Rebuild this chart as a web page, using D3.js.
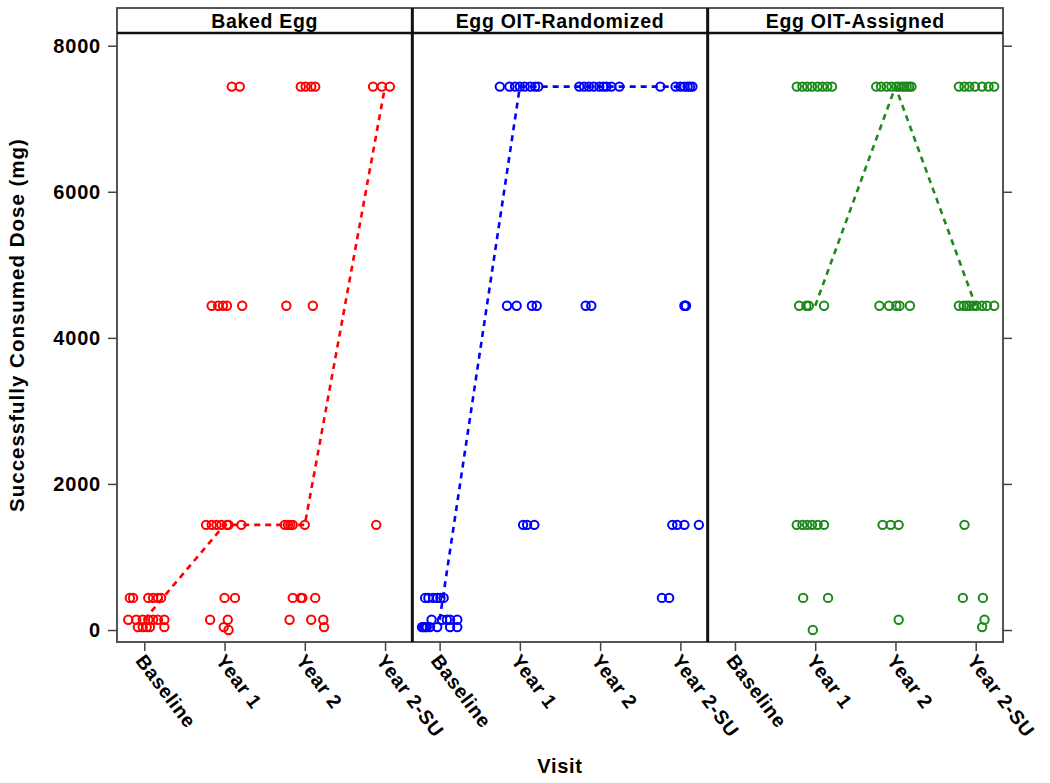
<!DOCTYPE html>
<html><head><meta charset="utf-8">
<script src="https://cdn.jsdelivr.net/npm/d3@7"></script>
<style>
html,body{margin:0;padding:0;background:#fff;}
text{font-family:"Liberation Sans",Arial,sans-serif;font-weight:bold;}
</style></head>
<body><svg id="chart" width="1050" height="783"></svg>
<script>
// ---------- data ----------
const visits = ["Baseline", "Year 1", "Year 2", "Year 2-SU"];
const groups = ["Baked Egg", "Egg OIT-Randomized", "Egg OIT-Assigned"];
const groupColors = ["#ff0000", "#0000ff", "#1b8a1b"];
const yTicks = [0, 2000, 4000, 6000, 8000];
const yLabel = "Successfully Consumed Dose (mg)";
const xLabel = "Visit";

// [visit, dose (mg), horizontal jitter of each subject (fraction of category step)]
const bakedEgg = [
  ["Baseline", 440, [-0.18, -0.14, 0.05, 0.11, 0.17, 0.21]],
  ["Baseline", 140, [-0.20, -0.10, -0.02, 0.05, 0.11, 0.17, 0.25]],
  ["Baseline", 40, [-0.08, -0.02, 0.03, 0.07, 0.25]],
  ["Year 1", 7440, [0.09, 0.19]],
  ["Year 1", 4440, [-0.16, -0.08, -0.02, 0.03, 0.22]],
  ["Year 1", 1440, [-0.23, -0.16, -0.10, -0.04, 0.03, 0.05, 0.21]],
  ["Year 1", 440, [0.0, 0.13]],
  ["Year 1", 140, [-0.18, 0.04]],
  ["Year 1", 40, [-0.01]],
  ["Year 1", 0, [0.05]],
  ["Year 2", 7440, [-0.05, 0.01, 0.08, 0.13]],
  ["Year 2", 4440, [-0.23, 0.10]],
  ["Year 2", 1440, [-0.25, -0.21, -0.18, -0.15, 0.0]],
  ["Year 2", 440, [-0.15, -0.05, -0.03, 0.13]],
  ["Year 2", 140, [-0.19, 0.08, 0.23]],
  ["Year 2", 40, [0.24]],
  ["Year 2-SU", 7440, [-0.15, -0.04, 0.06]],
  ["Year 2-SU", 1440, [-0.11]]
];
const oitRandomized = [
  ["Baseline", 440, [-0.18, -0.14, -0.08, -0.03, 0.01, 0.05]],
  ["Baseline", 140, [-0.10, 0.03, 0.09, 0.13, 0.22]],
  ["Baseline", 40, [-0.22, -0.20, -0.18, -0.16, -0.12, -0.03, 0.13, 0.22]],
  ["Year 1", 7440, [-0.25, -0.13, -0.06, 0.0, 0.06, 0.13, 0.19, 0.23]],
  ["Year 1", 4440, [-0.16, -0.04, 0.15, 0.21]],
  ["Year 1", 1440, [0.04, 0.09, 0.18]],
  ["Year 2", 7440, [-0.26, -0.20, -0.14, -0.08, -0.01, 0.04, 0.08, 0.14, 0.24]],
  ["Year 2", 4440, [-0.18, -0.11]],
  ["Year 2-SU", 7440, [-0.25, -0.06, 0.0, 0.05, 0.09, 0.12, 0.15]],
  ["Year 2-SU", 4440, [0.05, 0.06, 0.07]],
  ["Year 2-SU", 1440, [-0.10, -0.04, 0.05, 0.23]],
  ["Year 2-SU", 440, [-0.23, -0.14]]
];
const oitAssigned = [
  ["Year 1", 7440, [-0.23, -0.16, -0.10, -0.04, 0.03, 0.09, 0.15, 0.21]],
  ["Year 1", 4440, [-0.20, -0.11, -0.08, 0.11]],
  ["Year 1", 1440, [-0.23, -0.16, -0.10, -0.04, 0.03, 0.11]],
  ["Year 1", 440, [-0.15, 0.16]],
  ["Year 1", 0, [-0.03]],
  ["Year 2", 7440, [-0.24, -0.18, -0.11, -0.05, 0.01, 0.04, 0.08, 0.11, 0.14, 0.17, 0.20]],
  ["Year 2", 4440, [-0.20, -0.08, 0.01, 0.05, 0.18]],
  ["Year 2", 1440, [-0.16, -0.06, 0.04]],
  ["Year 2", 140, [0.04]],
  ["Year 2-SU", 7440, [-0.21, -0.14, -0.08, -0.01, 0.08, 0.16, 0.23]],
  ["Year 2-SU", 4440, [-0.21, -0.15, -0.11, -0.08, -0.03, 0.01, 0.08, 0.14, 0.23]],
  ["Year 2-SU", 1440, [-0.14]],
  ["Year 2-SU", 440, [-0.16, 0.09]],
  ["Year 2-SU", 140, [0.11]],
  ["Year 2-SU", 40, [0.08]]
];
// median dose per visit (dashed line)
const bakedMedian = [140, 1440, 1440, 7440];
const randomizedMedian = [140, 7440, 7440, 7440];
const assignedMedian = [null, 4440, 7440, 4440];

const groupData = [bakedEgg, oitRandomized, oitAssigned];
const groupMedians = [bakedMedian, randomizedMedian, assignedMedian];

// ---------- layout ----------
const svg = d3.select("#chart");
const L = 117, R = 1003, stripTop = 8, stripBot = 33, plotBot = 642;
const pw = (R - L) / 3;

const y = d3.scaleLinear().domain([-164, 8174]).range([plotBot, stripBot]);

groups.forEach((g, i) => {
  const x0 = L + i * pw;
  const x = d3.scalePoint().domain(visits).range([x0, x0 + pw]).padding(0.34);
  const step = x.step();
  const col = groupColors[i];
  const gp = svg.append("g");

  // bottom axis
  const xa = gp.append("g").attr("transform", `translate(0,${plotBot})`)
    .call(d3.axisBottom(x).tickSize(9).tickSizeOuter(0).tickFormat(""));
  xa.select(".domain").remove();
  xa.selectAll("line").attr("stroke", "#444").attr("stroke-width", 1.5);
  xa.selectAll(".tick").append("text")
    .attr("transform", "translate(-10,19) rotate(53)")
    .attr("text-anchor", "start")
    .attr("fill", "#000")
    .style("font-size", "19.5px")
    .style("letter-spacing", "0.7px")
    .text(d => d);

  // median line
  const med = groupMedians[i];
  const line = d3.line().defined(d => d[1] != null)
    .x(d => x(d[0])).y(d => y(d[1]));
  gp.append("path")
    .datum(visits.map((v, k) => [v, med[k]]))
    .attr("d", line)
    .attr("fill", "none").attr("stroke", col)
    .attr("stroke-width", 2.6).attr("stroke-dasharray", "6,5");

  // points
  const pts = [];
  groupData[i].forEach(([v, dose, jit]) => jit.forEach(j => pts.push({v, dose, j})));
  gp.selectAll("circle").data(pts).enter().append("circle")
    .attr("cx", d => x(d.v) + d.j * step)
    .attr("cy", d => y(d.dose))
    .attr("r", 4.2)
    .attr("fill", "none").attr("stroke", col).attr("stroke-width", 2);

  // strip
  gp.append("rect").attr("x", x0).attr("y", stripTop).attr("width", pw).attr("height", stripBot - stripTop)
    .attr("fill", "#fff").attr("stroke", "#666").attr("stroke-width", 1.5);
  gp.append("text").attr("x", x0 + pw / 2).attr("y", stripTop + 20)
    .attr("text-anchor", "middle").attr("fill", "#000")
    .style("font-size", "19.5px").style("letter-spacing", "0.7px")
    .text(g);
});

// panel frames
svg.append("rect").attr("x", L).attr("y", stripTop).attr("width", R - L).attr("height", plotBot - stripTop)
  .attr("fill", "none").attr("stroke", "#555").attr("stroke-width", 2);
svg.append("line").attr("x1", L).attr("x2", R).attr("y1", stripBot).attr("y2", stripBot)
  .attr("stroke", "#111").attr("stroke-width", 2.6);
[1, 2].forEach(k => {
  svg.append("line").attr("x1", L + k * pw).attr("x2", L + k * pw)
    .attr("y1", stripTop).attr("y2", plotBot)
    .attr("stroke", "#111").attr("stroke-width", 3);
});

// left axis
const ya = svg.append("g").attr("transform", `translate(${L},0)`)
  .call(d3.axisLeft(y).tickValues(yTicks).tickSize(9).tickPadding(7).tickSizeOuter(0).tickFormat(d3.format("d")));
ya.select(".domain").remove();
ya.selectAll("line").attr("stroke", "#444").attr("stroke-width", 1.5);
ya.selectAll("text").attr("fill", "#000").style("font-size", "20px").style("letter-spacing", "0.8px")
  .attr("font-family", null);

// right axis (ticks only)
const yr = svg.append("g").attr("transform", `translate(${R},0)`)
  .call(d3.axisRight(y).tickValues(yTicks).tickSize(9).tickSizeOuter(0).tickFormat(""));
yr.select(".domain").remove();
yr.selectAll("line").attr("stroke", "#444").attr("stroke-width", 1.5);

// axis titles
svg.append("text").attr("transform", `translate(24,325) rotate(-90)`)
  .attr("text-anchor", "middle").attr("fill", "#000")
  .style("font-size", "20.5px").style("letter-spacing", "1px")
  .text(yLabel);
svg.append("text").attr("x", (L + R) / 2).attr("y", 773)
  .attr("text-anchor", "middle").attr("fill", "#000")
  .style("font-size", "20px").style("letter-spacing", "0.7px")
  .text(xLabel);
</script></body></html>
